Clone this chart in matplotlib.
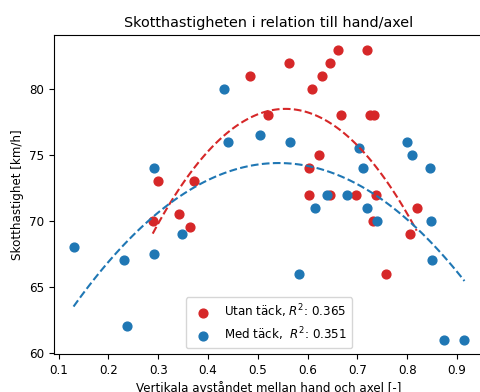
import numpy as np
import matplotlib
matplotlib.use("Agg")
import matplotlib.pyplot as plt

# utan täck
x_utan = [0.289, 0.299, 0.341, 0.363, 0.371, 0.485, 0.520, 0.562, 0.602, 0.602,
          0.608, 0.622, 0.628, 0.644, 0.644, 0.662, 0.668, 0.698, 0.720, 0.725,
          0.733, 0.731, 0.737, 0.757, 0.805, 0.819]
y_utan = [70, 73, 70.5, 69.5, 73, 81, 78, 82, 74, 72,
          80, 75, 81, 82, 72, 83, 78, 72, 83, 78,
          78, 70, 72, 66, 69, 71]

# med täck
x_med = [0.130, 0.232, 0.238, 0.291, 0.291, 0.347, 0.433, 0.441, 0.505, 0.564,
         0.582, 0.614, 0.638, 0.680, 0.704, 0.712, 0.720, 0.739, 0.799, 0.809,
         0.845, 0.847, 0.849, 0.873, 0.915]
y_med = [68, 67, 62, 74, 67.5, 69, 80, 76, 76.5, 76,
         66, 71, 72, 72, 75.5, 74, 71, 70, 76, 75,
         74, 70, 67, 61, 61]

r2_utan = 0.365
r2_med = 0.351

plt.rcParams["font.size"] = 8.6

fig = plt.figure(figsize=(4.81, 3.92), dpi=100)
ax = fig.add_axes([54 / 481, 38 / 392, 430 / 481, 319 / 392])

ax.scatter(x_utan, y_utan, color="tab:red", s=40,
           label=f"Utan täck, $R^2$: {r2_utan}")
p = np.polyfit(x_utan, y_utan, 2)
xs = np.linspace(min(x_utan), max(x_utan), 100)
ax.plot(xs, np.polyval(p, xs), "--", color="tab:red")

ax.scatter(x_med, y_med, color="tab:blue", s=40,
           label=f"Med täck,  $R^2$: {r2_med}")
p = np.polyfit(x_med, y_med, 2)
xs = np.linspace(min(x_med), max(x_med), 100)
ax.plot(xs, np.polyval(p, xs), "--", color="tab:blue")

ax.set_title("Skotthastigheten i relation till hand/axel")
ax.set_xlabel("Vertikala avståndet mellan hand och axel [-]")
ax.set_ylabel("Skotthastighet [km/h]")
ax.set_xticks(np.arange(0.1, 0.95, 0.1))
ax.legend(loc="lower center")

fig.savefig("out.png", dpi=100)
